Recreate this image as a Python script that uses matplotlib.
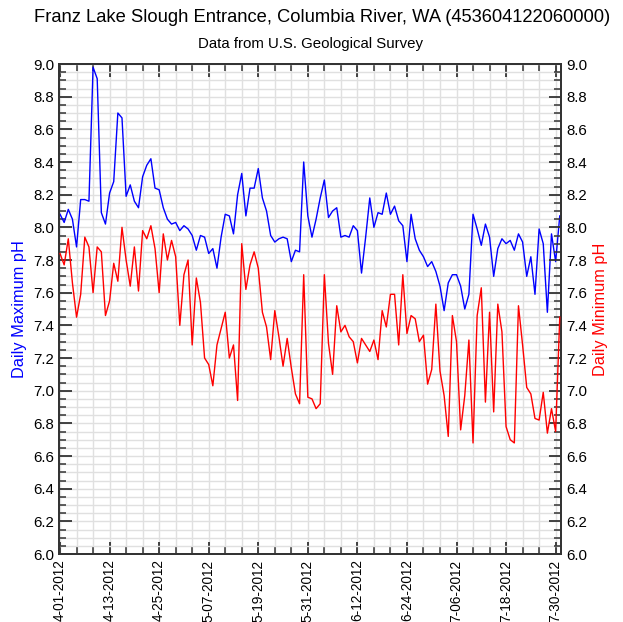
import matplotlib
matplotlib.use("Agg")
import matplotlib.pyplot as plt
import matplotlib.dates as mdates
from matplotlib.ticker import MultipleLocator, FixedLocator
import pandas as pd
import numpy as np

plt.rcParams['font.family'] = ['Liberation Sans', 'DejaVu Sans']

# daily pH, 4-01-2012 .. 7-31-2012
start = "2012-04-01"
ph_max = [8.08, 8.03, 8.11, 8.05, 7.88, 8.17, 8.17, 8.16, 8.98, 8.91,
          8.09, 8.02, 8.21, 8.28, 8.70, 8.67, 8.19, 8.26, 8.16, 8.12,
          8.31, 8.38, 8.42, 8.24, 8.23, 8.12, 8.05, 8.02, 8.03, 7.98,
          8.01, 7.99, 7.95, 7.86, 7.95, 7.94, 7.84, 7.87, 7.75, 7.94,
          8.08, 8.07, 7.96, 8.20, 8.33, 8.07, 8.24, 8.24, 8.36, 8.18,
          8.10, 7.95, 7.91, 7.93, 7.94, 7.93, 7.79, 7.86, 7.85, 8.40,
          8.07, 7.94, 8.05, 8.18, 8.29, 8.06, 8.10, 8.12, 7.94, 7.95,
          7.94, 8.01, 7.98, 7.72, 7.94, 8.18, 8.00, 8.09, 8.08, 8.21,
          8.08, 8.13, 8.04, 8.01, 7.79, 8.08, 7.93, 7.86, 7.82, 7.76,
          7.79, 7.73, 7.64, 7.49, 7.66, 7.71, 7.71, 7.64, 7.50, 7.59,
          8.08, 7.99, 7.89, 8.02, 7.94, 7.70, 7.87, 7.93, 7.90, 7.92,
          7.86, 7.96, 7.91, 7.70, 7.82, 7.59, 7.99, 7.90, 7.48, 7.96,
          7.79, 8.07]
ph_min = [7.84, 7.77, 7.93, 7.66, 7.45, 7.59, 7.94, 7.88, 7.60, 7.88,
          7.85, 7.46, 7.55, 7.78, 7.67, 8.00, 7.80, 7.64, 7.88, 7.61,
          7.98, 7.93, 8.01, 7.87, 7.60, 7.96, 7.80, 7.92, 7.82, 7.40,
          7.71, 7.80, 7.28, 7.69, 7.54, 7.20, 7.16, 7.03, 7.28, 7.38,
          7.48, 7.20, 7.28, 6.94, 7.90, 7.62, 7.77, 7.85, 7.75, 7.48,
          7.39, 7.19, 7.49, 7.33, 7.15, 7.32, 7.14, 6.98, 6.92, 7.71,
          6.96, 6.95, 6.89, 6.92, 7.71, 7.29, 7.10, 7.52, 7.36, 7.40,
          7.33, 7.30, 7.17, 7.32, 7.28, 7.24, 7.31, 7.19, 7.49, 7.39,
          7.59, 7.59, 7.28, 7.71, 7.35, 7.46, 7.44, 7.30, 7.34, 7.04,
          7.13, 7.53, 7.12, 6.97, 6.72, 7.46, 7.30, 6.76, 6.97, 7.31,
          6.68, 7.46, 7.63, 6.93, 7.48, 6.87, 7.53, 7.36, 6.78, 6.70,
          6.68, 7.52, 7.28, 7.02, 6.98, 6.83, 6.82, 6.99, 6.74, 6.89,
          6.75, 7.45]

dates = pd.date_range(start, periods=len(ph_max), freq="D")
major_days = pd.date_range(start, "2012-07-30", freq="12D")
minor_days = pd.date_range(start, "2012-07-31", freq="4D")

GRID = "#e0e0e0"
SPINE = "#333333"

fig = plt.figure(figsize=(6.23, 6.22), dpi=100)
ax = fig.add_axes([0.0947, 0.1093, 0.806, 0.7878])
ax2 = ax.twinx()

ax.plot(dates, ph_max, color="#0000ff", lw=1.0, zorder=3)
ax2.plot(dates, ph_min, color="#ff0000", lw=1.0, zorder=3)

for a in (ax, ax2):
    a.set_ylim(6.0, 9.0)
    a.yaxis.set_major_locator(MultipleLocator(0.2))
    a.yaxis.set_minor_locator(MultipleLocator(0.05))
    a.yaxis.set_major_formatter(plt.FormatStrFormatter("%.1f"))
    for s in a.spines.values():
        s.set_color(SPINE)
        s.set_linewidth(1.3)

ax.set_xlim(dates[0] - pd.Timedelta(hours=6), dates[-1] + pd.Timedelta(hours=8))
ax.xaxis.set_major_locator(FixedLocator(mdates.date2num(major_days)))
ax.xaxis.set_minor_locator(FixedLocator(mdates.date2num(minor_days)))
ax.set_xticklabels([f"{d.month}-{d.day:02d}-{d.year}" for d in major_days],
                   rotation=90, fontsize=9.8)

# light grid on every minor division
ax.set_axisbelow(True)
ax.grid(which="both", axis="both", color=GRID, lw=1.0, zorder=0)

ax.tick_params(axis="both", which="major", direction="in", length=9, width=1.3,
               color=SPINE, top=True, labelsize=10.8)
ax.tick_params(axis="both", which="minor", direction="in", length=5, width=1.1,
               color=SPINE, top=True)
ax.tick_params(axis="x", which="major", labelsize=9.8, pad=4)
ax2.tick_params(axis="y", which="major", direction="in", length=9, width=1.3,
                color=SPINE, labelsize=10.8)
ax2.tick_params(axis="y", which="minor", direction="in", length=5, width=1.1,
                color=SPINE)

ax.set_ylabel("Daily Maximum pH", color="#0000ff", fontsize=11.8, labelpad=4)
ax2.set_ylabel("Daily Minimum pH", color="#ff0000", fontsize=11.8, labelpad=4)

fig.text(0.517, 0.972, "Franz Lake Slough Entrance, Columbia River, WA (453604122060000)",
         ha="center", va="center", fontsize=13.2)
fig.text(0.498, 0.929, "Data from U.S. Geological Survey",
         ha="center", va="center", fontsize=10.8)

fig.savefig("out.png", dpi=100)
